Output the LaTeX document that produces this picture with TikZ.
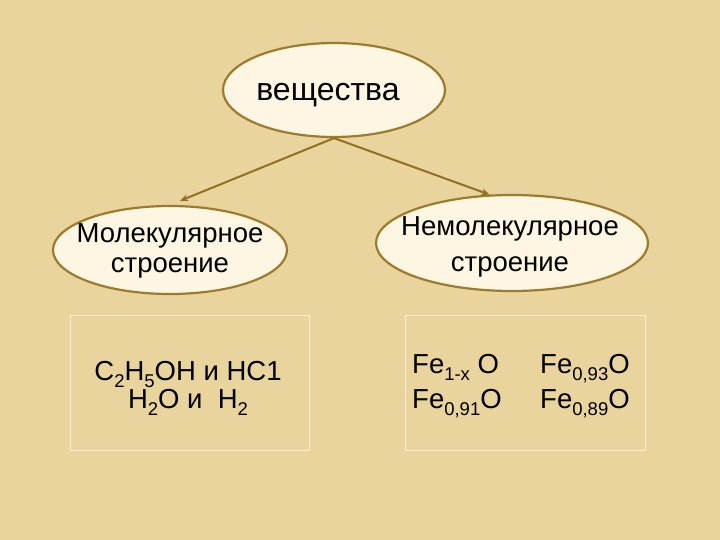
\documentclass[tikz,border=0pt]{standalone}
\usepackage{fontspec}
\setmainfont{Liberation Sans}
\usetikzlibrary{shapes.geometric,arrows.meta}
\definecolor{bg}{HTML}{E9D49E}
\definecolor{ovalfill}{HTML}{FDF6E2}
\definecolor{ovalline}{HTML}{9E7B2C}
\definecolor{arrowcol}{HTML}{94701E}
\definecolor{boxline}{HTML}{F6EDD6}
\newcommand\chs[1]{\raisebox{-0.26em}{\fontsize{18.5}{18.5}\selectfont #1}}
\tikzset{
  oval/.style={ellipse, draw=ovalline, line width=2.2pt, fill=ovalfill, inner sep=0pt, align=center},
  databox/.style={draw=boxline, line width=0.8pt, inner sep=0pt},
  formula/.style={inner sep=0pt, font=\fontsize{27.5}{30}\selectfont},
  link/.style={draw=arrowcol, line width=2pt, -{Stealth[length=8pt,width=7pt]}}
}
\begin{document}
\begin{tikzpicture}[x=1pt,y=-1pt]
\useasboundingbox (0,0) rectangle (720,540);
\fill[bg] (0,0) rectangle (720,540);
% boxes
\node[databox, minimum width=239pt, minimum height=135pt] (boxL) at (189.5,382.5) {};
\node[databox, minimum width=240pt, minimum height=135pt] (boxR) at (525,382.5) {};
% ovals
\node[oval, minimum width=222pt, minimum height=94pt] (top) at (334,90) {};
\node[oval, minimum width=234pt, minimum height=88pt] (mol) at (170,250) {};
\node[oval, minimum width=272pt, minimum height=96pt] (nonmol) at (512,243) {};
% oval texts
\node[inner sep=0pt, anchor=base, font=\fontsize{32}{36}\selectfont] (t0) at (328,101) {вещества};
\node[inner sep=0pt, anchor=base, font=\fontsize{27.5}{30}\selectfont] (t1) at (170,242) {Молекулярное};
\node[inner sep=0pt, anchor=base, font=\fontsize{27.5}{30}\selectfont] (t2) at (170,272) {строение};
\node[inner sep=0pt, anchor=base, font=\fontsize{27.5}{30}\selectfont] (t3) at (510,236) {Немолекулярное};
\node[inner sep=0pt, anchor=base, font=\fontsize{27.5}{30}\selectfont] (t4) at (510,271) {строение};
% arrows
\draw[link, shorten >=11pt] (top.south) -- (mol.north);
\draw[link] (top.south) -- (nonmol.115);
% formulas left
\node[formula, anchor=base] (l1) at (188,380) {C\chs{2}H\chs{5}OH и HC1};
\node[formula, anchor=base] (l2) at (188,408) {H\chs{2}O и\ \ H\chs{2}};
% formulas right
\node[formula, anchor=base west] (r1) at (412,373) {Fe\chs{1-x} O};
\node[formula, anchor=base west] (r2) at (412,408) {Fe\chs{0,91}O};
\node[formula, anchor=base west] (r3) at (540,373) {Fe\chs{0,93}O};
\node[formula, anchor=base west] (r4) at (540,408) {Fe\chs{0,89}O};
\end{tikzpicture}
\end{document}
